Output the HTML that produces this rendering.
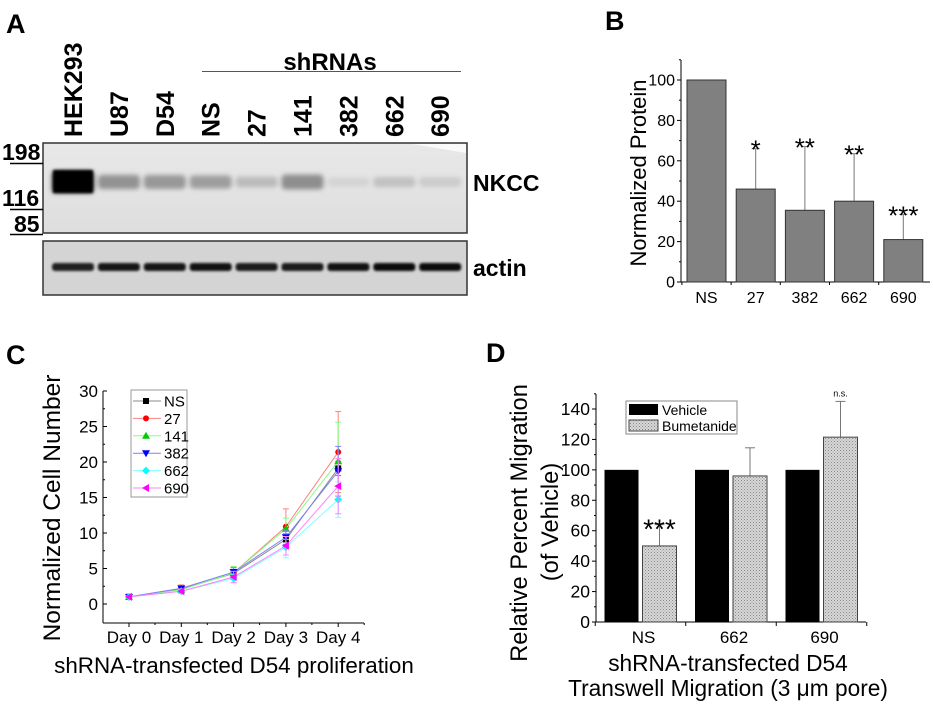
<!DOCTYPE html>
<html><head><meta charset="utf-8">
<style>
html,body{margin:0;padding:0;background:#fff;}
svg{display:block;font-family:"Liberation Sans",Arial,sans-serif;}
.b{font-weight:bold;}
</style></head>
<body>
<svg id="fig" width="933" height="710" viewBox="0 0 933 710" xmlns="http://www.w3.org/2000/svg">
<defs>
<filter id="blur2" x="-50%" y="-50%" width="200%" height="200%"><feGaussianBlur stdDeviation="2.5"/></filter>
<filter id="blur1" x="-50%" y="-50%" width="200%" height="200%"><feGaussianBlur stdDeviation="1.2"/></filter>
<linearGradient id="blotbg" x1="0" y1="0" x2="0" y2="1"><stop offset="0" stop-color="#e8e8e8"/><stop offset="1" stop-color="#dedede"/></linearGradient>
<pattern id="dots" width="3" height="3" patternUnits="userSpaceOnUse"><rect width="3" height="3" fill="#d8d8d8"/><rect width="1" height="1" fill="#888"/><rect x="1.5" y="1.5" width="1" height="1" fill="#999"/></pattern>
</defs>

<text x="6" y="33" font-size="27" class="b">A</text>
<text x="605" y="30" font-size="27" class="b">B</text>
<text x="6" y="364" font-size="27" class="b">C</text>
<text x="486" y="362" font-size="27" class="b">D</text>

<g>
  <text x="330" y="70" font-size="24" class="b" text-anchor="middle">shRNAs</text>
  <line x1="202" y1="71.5" x2="461" y2="71.5" stroke="#555" stroke-width="1"/>
  <g id="laneLabels" font-size="25" class="b"></g>
  <rect x="43" y="143" width="424" height="90" fill="url(#blotbg)" stroke="#333" stroke-width="1.5"/>
  <polygon points="412,144 466,144 466,153" fill="#fafafa"/>
  <g id="nkccBands"></g>
  <rect x="43" y="241" width="424" height="54" fill="#d4d4d4" stroke="#333" stroke-width="1.5"/>
  <g id="actinBands"></g>
  <text x="473" y="191" font-size="23" class="b">NKCC</text>
  <text x="473" y="276" font-size="23" class="b">actin</text>
  <g font-size="23" class="b">
    <text x="2" y="160">198</text><line x1="10" y1="163.5" x2="43" y2="163.5" stroke="#000" stroke-width="1.5"/>
    <text x="2" y="206">116</text><line x1="10" y1="209.5" x2="43" y2="209.5" stroke="#000" stroke-width="1.5"/>
    <text x="14" y="232">85</text><line x1="10" y1="234.5" x2="43" y2="234.5" stroke="#000" stroke-width="1.5"/>
  </g>
</g>

<g id="panelB"></g>
<g id="panelC"></g>
<g id="panelD"></g>
</svg>

<script>
const laneNames = ["HEK293","U87","D54","NS","27","141","382","662","690"];
const nkccIntensity = [1.0, 0.45, 0.42, 0.38, 0.2, 0.48, 0.05, 0.16, 0.1];
const actinIntensity = [0.85, 0.9, 0.9, 0.92, 0.88, 0.88, 0.92, 0.95, 0.95];

const bCategories = ["NS","27","382","662","690"];
const bValues = [100, 46, 35.5, 40, 21];
const bErrors = [0, 20, 31.5, 23.5, 12.5];
const bStars = ["", "*", "**", "**", "***"];
const bTicks = [0,20,40,60,80,100];

const cDays = ["Day 0","Day 1","Day 2","Day 3","Day 4"];
const cSeriesNames = ["NS","27","141","382","662","690"];
const cNS   = [1, 2.1, 4.3, 9.1, 19.1];
const c27   = [1, 2.2, 4.4, 10.9, 21.4];
const c141  = [1, 2.0, 4.4, 10.6, 20.1];
const c382  = [1, 2.2, 4.5, 9.4, 18.7];
const c662  = [1, 1.8, 3.6, 8.0, 14.7];
const c690  = [1, 1.8, 3.8, 8.2, 16.6];
const cErrNS  = [0.1, 0.3, 0.5, 0.8, 1.0];
const cErr27  = [0.1, 0.5, 0.8, 2.5, 5.7];
const cErr141 = [0.1, 0.4, 0.9, 1.5, 5.5];
const cErr382 = [0.1, 0.3, 0.6, 1.0, 3.5];
const cErr662 = [0.1, 0.3, 0.6, 1.5, 2.5];
const cErr690 = [0.1, 0.3, 0.8, 1.3, 3.9];
const cTicks = [0,5,10,15,20,25,30];

const dCategories = ["NS","662","690"];
const dVehicle = [100, 100, 100];
const dBumetanide = [50, 96, 121.5];
const dBumErr = [14, 18.5, 23.5];
const dNotes = ["***", "", "n.s."];
const dTicks = [0,20,40,60,80,100,120,140];

const NS_ = "http://www.w3.org/2000/svg";
function mk(tag, attrs, parent, text){
  const e = document.createElementNS(NS_, tag);
  for (const k in attrs) e.setAttribute(k, attrs[k]);
  if (text !== undefined) e.textContent = text;
  parent.appendChild(e);
  return e;
}

(function(){
  const laneX = i => 73 + i * 45.9;
  const lab = document.getElementById('laneLabels');
  const nk = document.getElementById('nkccBands');
  const ac = document.getElementById('actinBands');
  laneNames.forEach((n,i)=>{
    const x = laneX(i);
    const t = mk('text', {x: 0, y: 0, transform:`translate(${x+9},137) rotate(-90)`}, lab, n);
    
    
    const v = nkccIntensity[i];
    const h = 8 + v * 14;
    const r = mk('rect', {x: x-21, y: 182 - h/2, width: 42, height: h, rx: 4,
      fill: '#000', 'fill-opacity': Math.min(1, v*0.7 + 0.04), filter: 'url(#blur2)'}, nk);
    
    
    if (i === 0) mk('rect', {x: x-20, y: 170, width: 40, height: 23, fill:'#000', filter:'url(#blur1)'}, nk);
    const a = actinIntensity[i];
    const r2 = mk('rect', {x: x-21, y: 263, width: 42, height: 8, rx: 3,
      fill:'#000', 'fill-opacity': a, filter:'url(#blur1)'}, ac);
    
    
  });
})();

(function(){
  const g = document.getElementById('panelB');
  const x0 = 681, yBase = 282, y100 = 80;
  const yS = v => yBase - (v/100)*(yBase - y100);
  const xC = i => 706.5 + i * 49.2;
  const bw = 39;
  mk('line', {x1:x0, y1:60, x2:x0, y2:yBase, stroke:'#000', 'stroke-width':1}, g);
  mk('line', {x1:x0, y1:yBase, x2:930, y2:yBase, stroke:'#000', 'stroke-width':1}, g);
  for (let v=0; v<=110; v+=10){
    mk('line', {x1:x0-(v%20===0?4:2), y1:yS(v), x2:x0, y2:yS(v), stroke:'#000'}, g);
  }
  bTicks.forEach(v=>{
    const t = mk('text', {x:x0-6, y:yS(v)+5.5, 'font-size':16, 'text-anchor':'end'}, g, v);
    
    
  });
  const yt = mk('text', {x:0,y:0,transform:'translate(646,173) rotate(-90)','font-size':22,'text-anchor':'middle'}, g, 'Normalized Protein');
  
  
  bCategories.forEach((c,i)=>{
    const cx = xC(i);
    mk('line', {x1:cx-24.6, y1:yBase, x2:cx-24.6, y2:yBase+3, stroke:'#000'}, g);
    if (bErrors[i] > 0){
      mk('line', {x1:cx, y1:yS(bValues[i]), x2:cx, y2:yS(bValues[i]+bErrors[i]), stroke:'#777'}, g);
      mk('line', {x1:cx-4, y1:yS(bValues[i]+bErrors[i]), x2:cx+4, y2:yS(bValues[i]+bErrors[i]), stroke:'#777'}, g);
    }
    const r = mk('rect', {x:cx-bw/2, y:yS(bValues[i]), width:bw, height:yBase-yS(bValues[i]), fill:'#808080', stroke:'#333', 'stroke-width':1}, g);
    
    
    const t = mk('text', {x:cx, y:303, 'font-size':16, 'text-anchor':'middle'}, g, c);
    
    
    if (bStars[i]){
      const s = mk('text', {x:cx, y:yS(bValues[i]+bErrors[i])+10, 'font-size':26, 'text-anchor':'middle'}, g, bStars[i]);
      
      
    }
  });
})();

(function(){
  const g = document.getElementById('panelC');
  const x0 = 103, xR = 364, y0 = 604, y30 = 391, yBot = 623;
  const yS = v => y0 - v*(y0-y30)/30;
  const xS = i => 129 + i*52.3;
  mk('line', {x1:x0, y1:y30, x2:x0, y2:yBot, stroke:'#000'}, g);
  mk('line', {x1:x0, y1:yBot, x2:xR, y2:yBot, stroke:'#000'}, g);
  for (let v=0; v<=30; v+=2.5){
    mk('line', {x1:x0, y1:yS(v), x2:x0+(v%5===0?4:2), y2:yS(v), stroke:'#000'}, g);
  }
  cTicks.forEach(v=>{
    const t = mk('text', {x:x0-5, y:yS(v)+6, 'font-size':17, 'text-anchor':'end'}, g, v);
    
    
  });
  cDays.forEach((d,i)=>{
    mk('line', {x1:xS(i), y1:yBot, x2:xS(i), y2:yBot+4, stroke:'#000'}, g);
    mk('line', {x1:xS(i)+26, y1:yBot, x2:xS(i)+26, y2:yBot+2, stroke:'#000'}, g);
    const t = mk('text', {x:xS(i), y:643, 'font-size':17, 'text-anchor':'middle'}, g, d);
    
    
  });
  const xt = mk('text', {x:234, y:673, 'font-size':22.4, 'text-anchor':'middle'}, g, 'shRNA-transfected D54 proliferation');
  
  
  const yt = mk('text', {x:0,y:0,transform:'translate(60,508) rotate(-90)','font-size':24.5,'text-anchor':'middle'}, g, 'Normalized Cell Number');
  
  

  const series = [cNS,c27,c141,c382,c662,c690];
  const errs = [cErrNS,cErr27,cErr141,cErr382,cErr662,cErr690];
  const lineCol = ['#888','#ff8080','#80ff80','#8080ff','#80ffff','#ff80ff'];
  const markCol = ['#000','#f00','#0c0','#00f','#0ff','#f0f'];
  const shapes = ['square','circle','tri-up','tri-down','diamond','tri-left'];
  function marker(shape, x, y, col, parent){
    const s = 3;
    if (shape==='square') return mk('rect',{x:x-s,y:y-s,width:2*s,height:2*s,fill:col},parent);
    if (shape==='circle') return mk('circle',{cx:x,cy:y,r:s,fill:col},parent);
    let p;
    if (shape==='tri-up') p=`${x},${y-s-1} ${x-s-1},${y+s} ${x+s+1},${y+s}`;
    if (shape==='tri-down') p=`${x},${y+s+1} ${x-s-1},${y-s} ${x+s+1},${y-s}`;
    if (shape==='diamond') p=`${x},${y-s-1} ${x+s+1},${y} ${x},${y+s+1} ${x-s-1},${y}`;
    if (shape==='tri-left') p=`${x-s-1},${y} ${x+s},${y-s-1} ${x+s},${y+s+1}`;
    return mk('polygon',{points:p,fill:col},parent);
  }
  series.forEach((arr,si)=>{
    const sg = mk('g', {}, g);
    
    
    const pts = arr.map((v,i)=>`${xS(i)},${yS(v)}`).join(' ');
    mk('polyline', {points:pts, fill:'none', stroke:lineCol[si], 'stroke-width':1}, sg);
    arr.forEach((v,i)=>{
      const e = errs[si][i];
      mk('line',{x1:xS(i),y1:yS(v-e),x2:xS(i),y2:yS(v+e),stroke:lineCol[si]},sg);
      mk('line',{x1:xS(i)-3,y1:yS(v+e),x2:xS(i)+3,y2:yS(v+e),stroke:lineCol[si]},sg);
      mk('line',{x1:xS(i)-3,y1:yS(v-e),x2:xS(i)+3,y2:yS(v-e),stroke:lineCol[si]},sg);
    });
    arr.forEach((v,i)=>{
      const m = marker(shapes[si], xS(i), yS(v), markCol[si], sg);
      
      
    });
  });
  const lg = mk('g', {}, g);
  
  
  mk('rect',{x:131,y:390,width:56,height:107,fill:'#fff',stroke:'#999','stroke-width':1},lg);
  cSeriesNames.forEach((n,si)=>{
    const y = 401 + si*17.4;
    const e = mk('g', {}, lg);
    
    
    mk('line',{x1:133,y1:y,x2:161,y2:y,stroke:lineCol[si]},e);
    marker(shapes[si],146,y,markCol[si],e);
    mk('text',{x:164,y:y+5.5,'font-size':15},e,n);
  });
})();

(function(){
  const g = document.getElementById('panelD');
  const x0 = 596, xR = 866, yBase = 622, y140 = 409;
  const yS = v => yBase - v*(yBase-y140)/140;
  const xC = i => 640.5 + i*90.5;
  const bw = 34;
  mk('line',{x1:x0,y1:394,x2:x0,y2:yBase,stroke:'#000'},g);
  mk('line',{x1:x0,y1:yBase,x2:xR,y2:yBase,stroke:'#000'},g);
  for (let v=0; v<=150; v+=10){
    mk('line',{x1:x0-(v%20===0?4:2),y1:yS(v),x2:x0,y2:yS(v),stroke:'#000'},g);
  }
  dTicks.forEach(v=>{
    const t = mk('text',{x:x0-6,y:yS(v)+6,'font-size':17.5,'text-anchor':'end'},g,v);
    
    
  });
  [0,1,2,3].forEach(k=>mk('line',{x1:xC(k)-45.25,y1:yBase,x2:xC(k)-45.25,y2:yBase+4,stroke:'#000'},g));
  dCategories.forEach((c,i)=>{
    const cx = xC(i);
    const bx = cx + 19;
    const e = dBumErr[i];
    mk('line',{x1:bx,y1:yS(dBumetanide[i]),x2:bx,y2:yS(dBumetanide[i]+e),stroke:'#777'},g);
    mk('line',{x1:bx-5,y1:yS(dBumetanide[i]+e),x2:bx+5,y2:yS(dBumetanide[i]+e),stroke:'#777'},g);
    const rv = mk('rect',{x:cx-36,y:yS(dVehicle[i]),width:bw,height:yBase-yS(dVehicle[i]),fill:'#000'},g);
    
    
    const rb = mk('rect',{x:cx+2,y:yS(dBumetanide[i]),width:bw,height:yBase-yS(dBumetanide[i]),fill:'url(#dots)',stroke:'#444'},g);
    
    
    const t = mk('text',{x:cx+3,y:643,'font-size':17,'text-anchor':'middle'},g,c);
    
    
    if (dNotes[i]==='***'){
      const s = mk('text',{x:bx,y:yS(dBumetanide[i]+e)+14,'font-size':28,'text-anchor':'middle'},g,'***');
      
      
    } else if (dNotes[i]){
      const s = mk('text',{x:bx,y:yS(dBumetanide[i]+e)-5,'font-size':9,'text-anchor':'middle'},g,dNotes[i]);
      
      
    }
  });
  const t1 = mk('text',{x:728,y:671,'font-size':22.7,'text-anchor':'middle'},g,'shRNA-transfected D54');
  
  
  const t2 = mk('text',{x:728,y:696,'font-size':22.7,'text-anchor':'middle'},g,'Transwell Migration (3 \u03bcm pore)');
  
  
  const y1 = mk('text',{x:0,y:0,transform:'translate(527,523) rotate(-90)','font-size':23.7,'text-anchor':'middle'},g,'Relative Percent Migration');
  
  
  const y2 = mk('text',{x:0,y:0,transform:'translate(558,522) rotate(-90)','font-size':23.7,'text-anchor':'middle'},g,'(of Vehicle)');
  
  
  const lg = mk('g',{},g);
  
  
  mk('rect',{x:626,y:401,width:111,height:33,fill:'#fff',stroke:'#888'},lg);
  mk('rect',{x:629,y:404,width:29,height:11,fill:'#000'},lg);
  mk('rect',{x:629,y:420,width:29,height:11,fill:'url(#dots)',stroke:'#444'},lg);
  mk('text',{x:662,y:415,'font-size':14},lg,'Vehicle');
  mk('text',{x:662,y:431,'font-size':14},lg,'Bumetanide');
})();
</script>
</body></html>
